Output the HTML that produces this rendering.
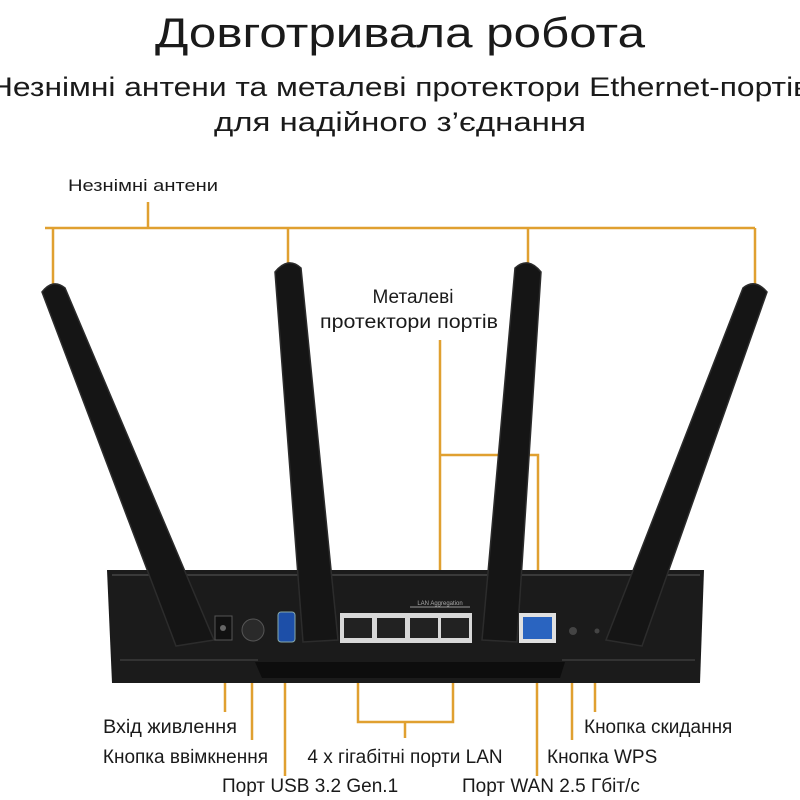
<!DOCTYPE html>
<html><head><meta charset="utf-8"><style>
html,body{margin:0;padding:0;background:#fff;width:800px;height:800px;overflow:hidden}
svg{display:block}
text{font-family:"Liberation Sans","DejaVu Sans",sans-serif;fill:#1a1a1a}
</style></head><body>
<svg width="800" height="800" viewBox="0 0 800 800" xmlns="http://www.w3.org/2000/svg">
<text x="400" y="47" font-size="42" text-anchor="middle" textLength="490" lengthAdjust="spacingAndGlyphs">Довготривала робота</text>
<text x="400" y="96" font-size="27" text-anchor="middle" textLength="820" lengthAdjust="spacingAndGlyphs">Незнімні антени та металеві протектори Ethernet-портів</text>
<text x="400" y="131" font-size="27" text-anchor="middle" textLength="372" lengthAdjust="spacingAndGlyphs">для надійного з’єднання</text>

<g stroke="#e0a030" stroke-width="2.5" fill="none">
<path d="M148 202V228M45 228H755M53 228V290M288 228V268M528 228V268M755 228V290"/>
<path d="M440 340V597M440 455H538V597"/>
<path d="M225 668V712M252 668V740M285 668V776M358 668V722H453V668M405 722V738M537 668V776M572 668V740M595 668V712"/>
</g>
<text x="68" y="191" font-size="17" textLength="150" lengthAdjust="spacingAndGlyphs">Незнімні антени</text>
<text x="413" y="303" font-size="19" text-anchor="middle">Металеві</text>
<text x="409" y="328" font-size="19" text-anchor="middle" textLength="178" lengthAdjust="spacingAndGlyphs">протектори портів</text>

<!-- body -->
<path d="M107 570H704L700 683H112Z" fill="#1b1b1b"/>
<path d="M112 575H700" stroke="#3a3a3a" stroke-width="2"/>
<path d="M255 662H565L560 678H262Z" fill="#0d0d0d"/>
<path d="M120 660H258M562 660H695" stroke="#333" stroke-width="2"/>

<!-- antennas -->
<g fill="#151515" stroke="#2c2c2c" stroke-width="1.5">
<path d="M42 292Q53 278 65 288L214 640L176 646Z"/>
<path d="M275 272Q288 256 301 268L338 640L303 642Z"/>
<path d="M515 268Q528 256 541 272L517 642L482 640Z"/>
<path d="M743 288Q755 278 767 292L642 646L606 640Z"/>
</g>

<!-- ports -->
<rect x="215" y="616" width="17" height="24" fill="#111" stroke="#555"/>
<circle cx="223" cy="628" r="3" fill="#666"/>
<circle cx="253" cy="630" r="11" fill="#2a2a2a" stroke="#555"/>
<rect x="278" y="612" width="17" height="30" rx="3" fill="#1d4fa8" stroke="#8aa"/>
<rect x="340" y="613" width="132" height="30" fill="#d8d8d8"/>
<g fill="#222">
<rect x="344" y="618" width="28" height="20"/><rect x="377" y="618" width="28" height="20"/>
<rect x="410" y="618" width="28" height="20"/><rect x="441" y="618" width="28" height="20"/>
</g>
<path d="M410 607H470" stroke="#999" stroke-width="1"/>
<text x="440" y="605" font-size="6" text-anchor="middle" style="fill:#aaa">LAN Aggregation</text>
<rect x="519" y="613" width="37" height="30" fill="#e0e0e0"/>
<rect x="523" y="617" width="29" height="22" fill="#2a64c0"/>
<circle cx="573" cy="631" r="4" fill="#444"/>
<circle cx="597" cy="631" r="2.5" fill="#444"/>

<g font-size="19">
<text x="237" y="733" text-anchor="end" textLength="134" lengthAdjust="spacingAndGlyphs">Вхід живлення</text>
<text x="268" y="763" text-anchor="end">Кнопка ввімкнення</text>
<text x="222" y="792">Порт USB 3.2 Gen.1</text>
<text x="405" y="763" text-anchor="middle">4 x гігабітні порти LAN</text>
<text x="584" y="733">Кнопка скидання</text>
<text x="547" y="763">Кнопка WPS</text>
<text x="462" y="792">Порт WAN 2.5 Гбіт/с</text>
</g>
</svg>
</body></html>
